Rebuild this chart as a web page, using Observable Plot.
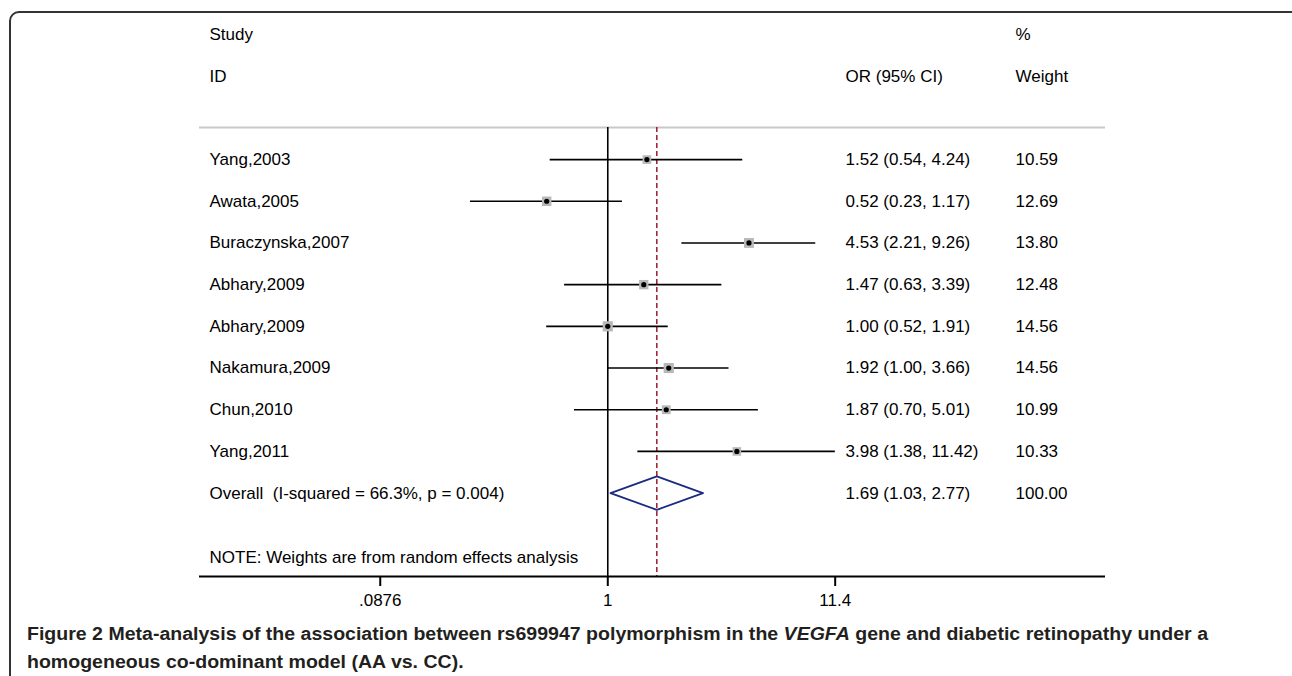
<!DOCTYPE html>
<html><head><meta charset="utf-8">
<script src="https://cdn.jsdelivr.net/npm/d3@7"></script>
<script src="https://cdn.jsdelivr.net/npm/@observablehq/plot@0.6"></script>
<style>
body{margin:0;background:#fff;width:1292px;height:676px;overflow:hidden;position:relative;font-family:"Liberation Sans",Arial,sans-serif;}
#frame{position:absolute;left:9px;top:11px;width:1310px;height:720px;border:2px solid #333;border-radius:10px;box-sizing:border-box;pointer-events:none;}
#chart{position:absolute;left:0;top:0;}
#caption{position:absolute;left:27px;top:620px;font-family:"Liberation Sans",Arial,sans-serif;font-weight:bold;font-size:18px;line-height:28px;color:#231f20;white-space:nowrap;transform-origin:0 0;}
</style></head><body>
<div id="chart"></div>
<div id="caption"><span id="cap1"><b>Figure 2</b> Meta-analysis of the association between rs699947 polymorphism in the <i>VEGFA</i> gene and diabetic retinopathy under a</span><br>homogeneous co-dominant model (AA vs. CC).</div>
<div id="frame"></div>
<script>
const studies = ["Yang,2003","Awata,2005","Buraczynska,2007","Abhary,2009","Abhary,2009","Nakamura,2009","Chun,2010","Yang,2011"];
const oddsRatio = [1.52,0.52,4.53,1.47,1.00,1.92,1.87,3.98];
const lower = [0.54,0.23,2.21,0.63,0.52,1.00,0.70,1.38];
const upper = [4.24,1.17,9.26,3.39,1.91,3.66,5.01,11.42];
const weights = [10.59,12.69,13.80,12.48,14.56,14.56,10.99,10.33];
const overallLabel = "Overall  (I-squared = 66.3%, p = 0.004)";
const overallOR = 1.69, overallLower = 1.03, overallUpper = 2.77, overallWeight = 100.00;
const noteText = "NOTE: Weights are from random effects analysis";
const headerLeft = ["Study","ID"];
const headerCI = "OR (95% CI)";
const headerWeight = ["%","Weight"];
const tickValues = [0.0876, 1, 11.4];
const tickLabels = [".0876","1","11.4"];

const rows = studies.map((s,i)=>({
  label:s, or:oddsRatio[i], lo:lower[i], hi:upper[i], w:weights[i], row:i,
  ci:`${oddsRatio[i].toFixed(2)} (${lower[i].toFixed(2)}, ${upper[i].toFixed(2)})`,
  wt:weights[i].toFixed(2)
}));
const overallRow = studies.length;
const allRows = rows.concat([{label:overallLabel,row:overallRow,
  ci:`${overallOR.toFixed(2)} (${overallLower.toFixed(2)}, ${overallUpper.toFixed(2)})`,
  wt:overallWeight.toFixed(2)}]);
const ticks = tickValues.map((v,i)=>({v, label:tickLabels[i]}));
const hd = 0.4;
const diamond = [
  {x:overallLower,y:overallRow},{x:overallOR,y:overallRow-hd},
  {x:overallUpper,y:overallRow},{x:overallOR,y:overallRow+hd},
  {x:overallLower,y:overallRow}
];
const headerLineY = -0.77, axisY = overallRow + 2, noteY = overallRow + 1.55;
const font = 17;

const chart = Plot.plot({
  width:1292, height:620,
  marginLeft:199, marginRight:187, marginTop:34, marginBottom:44,
  style:{fontFamily:"Liberation Sans, Arial, sans-serif", fontSize:font+"px", color:"#000", background:"transparent", overflow:"visible"},
  x:{type:"log", domain:[0.01266, 205.7], axis:null},
  y:{type:"linear", domain:[-3, axisY], reverse:true, axis:null},
  r:{type:"sqrt", domain:[0,15], range:[0,5.8]},
  marks:[
    Plot.ruleY([headerLineY], {stroke:"#c8c8c8", strokeWidth:2}),
    Plot.ruleX([1], {y1:headerLineY, y2:axisY, stroke:"#000", strokeWidth:1.6}),
    Plot.ruleX([overallOR], {y1:headerLineY, y2:axisY, stroke:"#a0182c", strokeWidth:1.5, strokeDasharray:"5,3"}),
    Plot.ruleY(rows, {y:"row", x1:"lo", x2:"hi", stroke:"#000", strokeWidth:1.6}),
    Plot.dot(rows, {x:"or", y:"row", r:"w", symbol:"square", fill:"#b8b8b8", stroke:"none"}),
    Plot.dot(rows, {x:"or", y:"row", r:2.6, fill:"#000", stroke:"none"}),
    Plot.line(diamond, {x:"x", y:"y", stroke:"#1c2a80", strokeWidth:1.8, curve:"linear"}),
    Plot.text(allRows, {y:"row", text:"label", frameAnchor:"left", dx:10, textAnchor:"start", fontSize:font, fill:"#000"}),
    Plot.text(allRows, {y:"row", text:"ci", frameAnchor:"left", dx:646, textAnchor:"start", fontSize:font, fill:"#000"}),
    Plot.text(allRows, {y:"row", text:"wt", frameAnchor:"left", dx:816, textAnchor:"start", fontSize:font, fill:"#000"}),
    Plot.text(headerLeft, {y:(d,i)=>i-3, text:d=>d, frameAnchor:"left", dx:10, textAnchor:"start", fontSize:font, fill:"#000"}),
    Plot.text([headerCI], {y:()=>-2, text:d=>d, frameAnchor:"left", dx:646, textAnchor:"start", fontSize:font, fill:"#000"}),
    Plot.text(headerWeight, {y:(d,i)=>i-3, text:d=>d, frameAnchor:"left", dx:816, textAnchor:"start", fontSize:font, fill:"#000"}),
    Plot.text([noteText], {y:()=>noteY, text:d=>d, frameAnchor:"left", dx:10, textAnchor:"start", fontSize:font, fill:"#000"}),
    Plot.ruleY([axisY], {stroke:"#000", strokeWidth:2}),
    Plot.axisX(tickValues, {tickFormat:()=>"", tickSize:10, stroke:"#000", strokeWidth:2}),
    Plot.text(ticks, {x:"v", y:()=>axisY, text:"label", dy:24, fontSize:font, fill:"#000"})
  ]
});
document.getElementById("chart").appendChild(chart);

// fit caption's first line to reference width
const cap = document.getElementById("caption");
const w1 = document.getElementById("cap1").getBoundingClientRect().width;
cap.style.transform = `scaleX(${1181 / w1})`;
</script>
</body></html>
